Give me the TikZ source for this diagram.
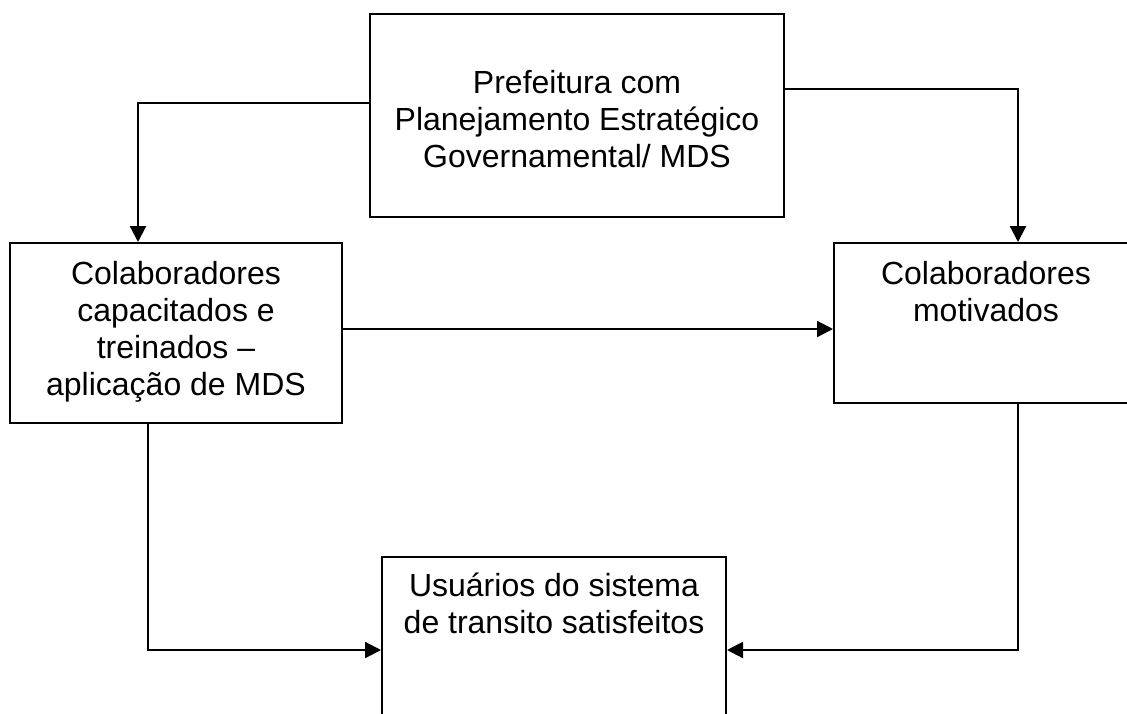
\documentclass[tikz,border=0pt]{standalone}
\usepackage{fontspec}
\setmainfont{Liberation Sans}
\usetikzlibrary{arrows.meta}

\begin{document}
\begin{tikzpicture}[x=1pt, y=-1pt,
        caixa/.style={draw, line width=2pt, inner sep=0pt},
        texto/.style={align=center, inner sep=0pt, font=\fontsize{32}{37}\selectfont},
        seta/.style={line width=2.2pt, -{Triangle[length=16pt, width=16pt]}}]
        \useasboundingbox (0,0) rectangle (1127,713);
        \clip (0,0) rectangle (1127,713);

        % Define the boxes
        \node[caixa, minimum width=414pt, minimum height=203pt] (pref) at (577,115.5) {};
        \node[texto] (preftxt) at (577,119) {Prefeitura com\\Planejamento Estratégico\\Governamental/ MDS};

        \node[caixa, minimum width=332pt, minimum height=180pt] (capac) at (176,333) {};
        \node[texto, anchor=north] (capactxt) at (176,261) {Colaboradores\\capacitados e\\treinados --\\aplicação de MDS};

        \node[caixa, minimum width=304pt, minimum height=160pt] (motiv) at (986,323) {};
        \node[texto, anchor=north] (motivtxt) at (986,261) {Colaboradores\\motivados};

        \node[caixa, minimum width=344pt, minimum height=213pt] (usu) at (554,663.5) {};
        \node[texto, anchor=north] (usutxt) at (554,573) {Usuários do sistema\\de transito satisfeitos};

        % Define the connectors
        \draw[seta] (pref.west |- 0,103) -| (capac.north -| 138,0);
        \draw[seta] (pref.east |- 0,89) -| (motiv.north -| 1018,0);
        \draw[seta] (capac.east |- 0,329) -- (motiv.west |- 0,329);
        \draw[seta] (capac.south -| 148,0) |- (usu.west |- 0,650);
        \draw[seta] (motiv.south -| 1018,0) |- (usu.east |- 0,650);

    \end{tikzpicture}
\end{document}
